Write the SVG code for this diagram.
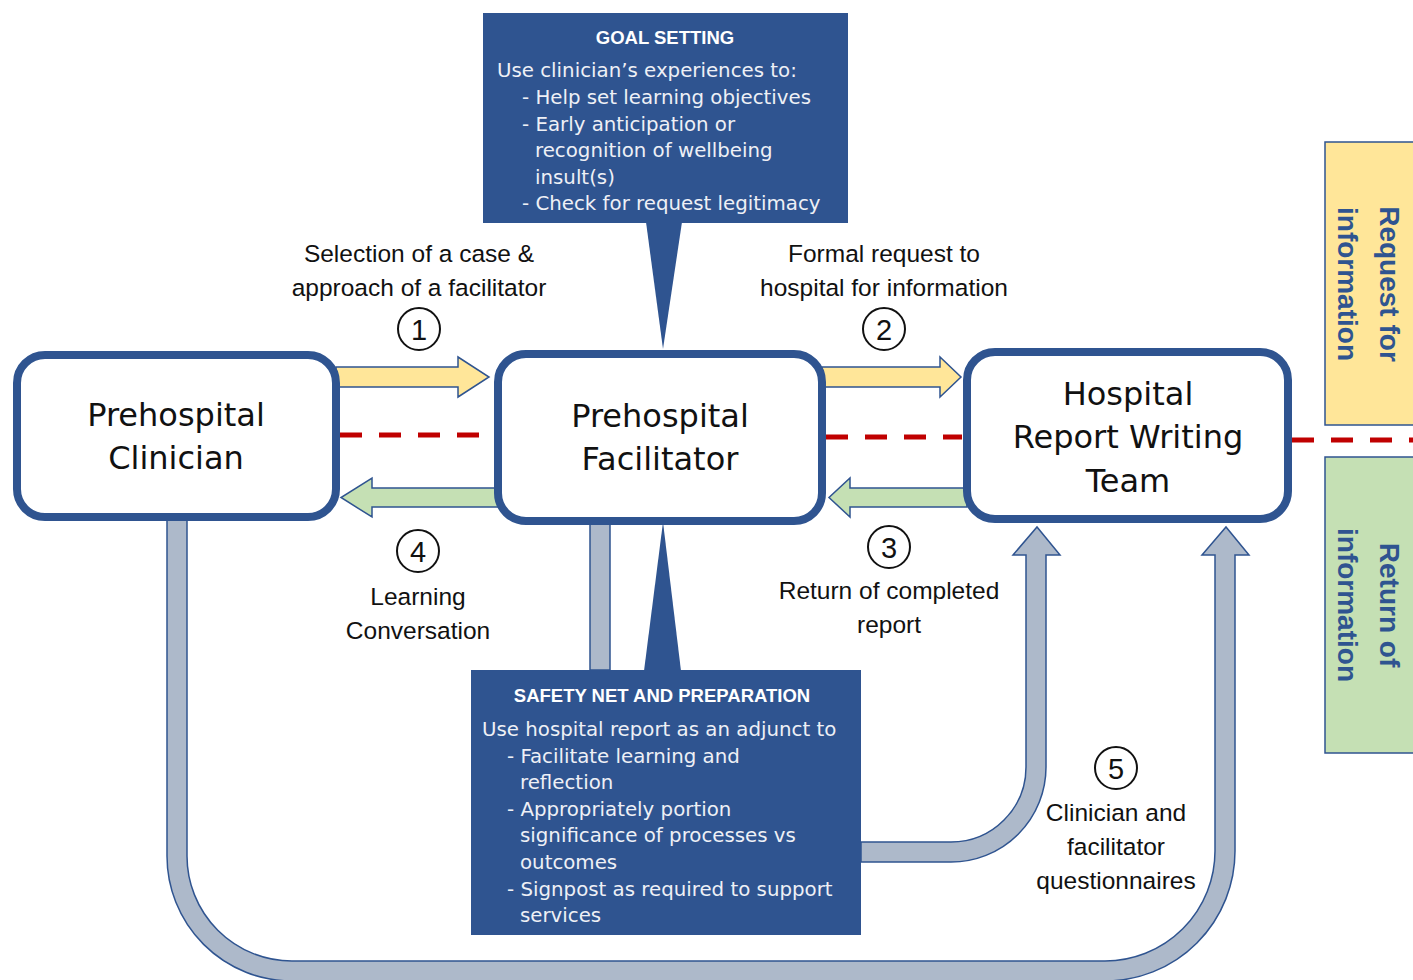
<svg xmlns="http://www.w3.org/2000/svg" width="1413" height="980" viewBox="0 0 1413 980">
<style>
.node{fill:#ffffff;stroke:#2f5490;stroke-width:8}
.ntxt{font-family:"DejaVu Sans",sans-serif;font-size:32px;fill:#111;text-anchor:middle}
.call{fill:#2f5490}
.ctitle{font-family:"Liberation Sans",Arial,sans-serif;font-size:18.5px;font-weight:bold;fill:#ffffff;text-anchor:middle}
.cbody{font-family:"DejaVu Sans",sans-serif;font-size:19.8px;fill:#eef0f6}
.lbl{font-family:"Liberation Sans",Arial,sans-serif;font-size:24.5px;fill:#111;text-anchor:middle}
.num{font-family:"Liberation Sans",Arial,sans-serif;font-size:29px;fill:#111;text-anchor:middle}
.circ{fill:none;stroke:#111;stroke-width:2}
.yel{fill:#ffe699;stroke:#2f5490;stroke-width:1.5}
.grn{fill:#c5e0b4;stroke:#2f5490;stroke-width:1.5}
.gry{fill:#adb9ca;stroke:#2f5490;stroke-width:1.5}
.dash{stroke:#c00000;stroke-width:5;stroke-dasharray:22 17;fill:none}
.side{font-family:"Liberation Sans",Arial,sans-serif;font-size:28px;font-weight:bold;fill:#2f5490;text-anchor:middle}
</style>

<g id="side-panels">
  <rect x="1325" y="142" width="92" height="283" class="yel"/>
  <text class="side" transform="translate(1380,284) rotate(90)">Request for</text>
  <text class="side" transform="translate(1338,284) rotate(90)">information</text>
  <rect x="1325" y="457" width="92" height="296" class="grn"/>
  <text class="side" transform="translate(1380,605) rotate(90)">Return of</text>
  <text class="side" transform="translate(1338,605) rotate(90)">information</text>
</g>

<g id="connectors">
  <path class="dash" d="M340 435 H482"/>
  <path class="dash" d="M826 437 H962"/>
  <path class="dash" d="M1292 440 H1413"/>
  <path class="gry" d="M167 518 V856 A125 125 0 0 0 292 981 H1105 A130 130 0 0 0 1235 851 V555 H1249 L1226 527 L1202 555 H1215 V851 A110 110 0 0 1 1105 961 H292 A105 105 0 0 1 187 856 V518 Z"/>
  <path class="gry" d="M861 842 H951 A75 75 0 0 0 1026 767 V555 H1013 L1037 527 L1060 555 H1046 V767 A95 95 0 0 1 951 862 H861 Z"/>
  <rect class="gry" x="590" y="520" width="20" height="150"/>
  <path class="yel" d="M336 367 H458 V357 L489 377 L458 397 V387 H336 Z"/>
  <path class="yel" d="M822 367 H940 V357 L961 377 L940 397 V387 H822 Z"/>
  <path class="grn" d="M498 488 H372 V478 L341 497.5 L372 517 V507 H498 Z"/>
  <path class="grn" d="M967 488 H850 V478 L829 497.5 L850 517 V507 H967 Z"/>
</g>

<g id="goal-setting">
  <rect class="call" x="483" y="13" width="365" height="210"/>
  <polygon class="call" points="646,222 682,222 663,349"/>
  <text class="ctitle" x="665" y="44">GOAL SETTING</text>
  <text class="cbody" x="497" y="77">Use clinician’s experiences to:</text>
  <text class="cbody" x="522" y="104">- Help set learning objectives</text>
  <text class="cbody" x="522" y="131">- Early anticipation or</text>
  <text class="cbody" x="535" y="157">recognition of wellbeing</text>
  <text class="cbody" x="535" y="184">insult(s)</text>
  <text class="cbody" x="522" y="210">- Check for request legitimacy</text>
</g>

<g id="safety-net">
  <rect class="call" x="471" y="670" width="390" height="265"/>
  <polygon class="call" points="644,671 681,671 663,522"/>
  <text class="ctitle" x="662" y="702">SAFETY NET AND PREPARATION</text>
  <text class="cbody" x="482" y="736">Use hospital report as an adjunct to</text>
  <text class="cbody" x="507" y="763">- Facilitate learning and</text>
  <text class="cbody" x="520" y="789">reflection</text>
  <text class="cbody" x="507" y="816">- Appropriately portion</text>
  <text class="cbody" x="520" y="842">significance of processes vs</text>
  <text class="cbody" x="520" y="869">outcomes</text>
  <text class="cbody" x="507" y="896">- Signpost as required to support</text>
  <text class="cbody" x="520" y="922">services</text>
</g>

<g id="clinician">
  <rect class="node" x="17" y="355" width="319" height="162" rx="28"/>
  <text class="ntxt" x="176" y="426">Prehospital</text>
  <text class="ntxt" x="176" y="469">Clinician</text>
</g>

<g id="facilitator">
  <rect class="node" x="498" y="354" width="324" height="167" rx="28"/>
  <text class="ntxt" x="660" y="427">Prehospital</text>
  <text class="ntxt" x="660" y="470">Facilitator</text>
</g>

<g id="hospital">
  <rect class="node" x="967" y="352" width="321" height="167" rx="28"/>
  <text class="ntxt" x="1128" y="405">Hospital</text>
  <text class="ntxt" x="1128" y="448">Report Writing</text>
  <text class="ntxt" x="1128" y="492">Team</text>
</g>

<g id="step1">
  <text class="lbl" x="419" y="262">Selection of a case &amp;</text>
  <text class="lbl" x="419" y="296">approach of a facilitator</text>
  <circle class="circ" cx="419" cy="329" r="21"/>
  <text class="num" x="419" y="340">1</text>
</g>
<g id="step2">
  <text class="lbl" x="884" y="262">Formal request to</text>
  <text class="lbl" x="884" y="296">hospital for information</text>
  <circle class="circ" cx="884" cy="329" r="21"/>
  <text class="num" x="884" y="340">2</text>
</g>
<g id="step3">
  <circle class="circ" cx="889" cy="547" r="21"/>
  <text class="num" x="889" y="558">3</text>
  <text class="lbl" x="889" y="599">Return of completed</text>
  <text class="lbl" x="889" y="633">report</text>
</g>
<g id="step4">
  <circle class="circ" cx="418" cy="551" r="21"/>
  <text class="num" x="418" y="562">4</text>
  <text class="lbl" x="418" y="605">Learning</text>
  <text class="lbl" x="418" y="639">Conversation</text>
</g>
<g id="step5">
  <circle class="circ" cx="1116" cy="768" r="21"/>
  <text class="num" x="1116" y="779">5</text>
  <text class="lbl" x="1116" y="821">Clinician and</text>
  <text class="lbl" x="1116" y="855">facilitator</text>
  <text class="lbl" x="1116" y="889">questionnaires</text>
</g>
</svg>
